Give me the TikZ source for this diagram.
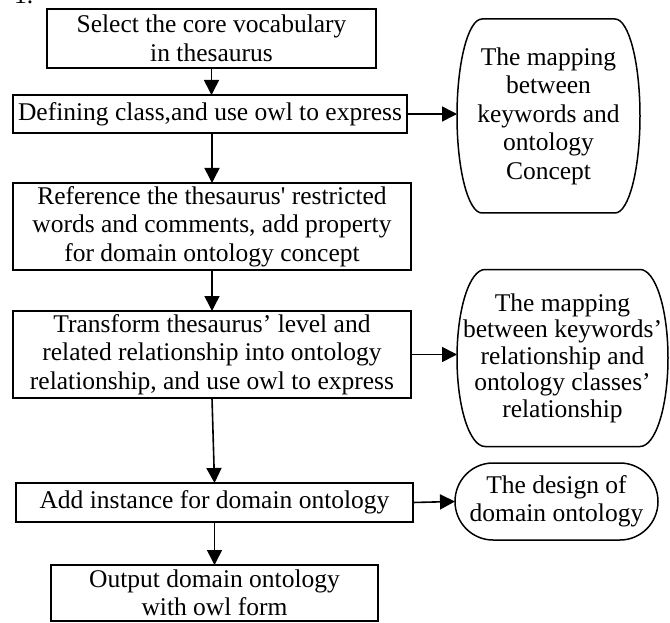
\documentclass[tikz,border=0pt]{standalone}
\usepackage{fontspec}
\setmainfont{Liberation Serif}
\usetikzlibrary{arrows.meta,calc}
\newcommand\barrelshape[2]{%
  \draw[outline] let \p1=(#1.north west), \p2=(#1.south east), \n1={(\y1-\y2)/2} in
    (\x1+#2,\y1) -- (\x2-#2,\y1)
    arc[start angle=90,end angle=-90,x radius=#2,y radius=\n1]
    -- (\x1+#2,\y2)
    arc[start angle=270,end angle=90,x radius=#2,y radius=\n1] -- cycle;}
\begin{document}
\begin{tikzpicture}[x=1pt,y=1pt,
  every node/.style={font=\fontsize{25.5}{28.5}\selectfont},
  stepbox/.style={draw, line width=1.5pt, align=center, inner sep=0pt, outer sep=0pt},
  barrel/.style={align=center, inner sep=0pt, outer sep=0pt},
  conn/.style={line width=1.6pt, -{Triangle[length=15pt,width=15pt]}},
  outline/.style={line width=1.5pt}
]
\useasboundingbox (0,0) rectangle (670,-623);
\node[anchor=base west, inner sep=0pt] (num) at (14,-4) {1.};
\node[stepbox, minimum width=329, minimum height=59] (b1) at (211.5,-38.5) {Select the core vocabulary\\in thesaurus};
\node[stepbox, minimum width=394, minimum height=38] (b2) at (210,-114) {Defining class,and use owl to express};
\node[stepbox, minimum width=398, minimum height=87] (b3) at (212,-226.5) {Reference the thesaurus\textquotesingle{} restricted\\words and comments, add property\\for domain ontology concept};
\node[stepbox, minimum width=398, minimum height=87] (b4) at (212,-354.5) {Transform thesaurus’ level and\\related relationship into ontology\\relationship, and use owl to express};
\node[stepbox, minimum width=397, minimum height=39] (b5) at (214.5,-502.5) {Add instance for domain ontology};
\node[stepbox, minimum width=327, minimum height=56] (b6) at (214.5,-593) {Output domain ontology\\with owl form};
\node[barrel, minimum width=183, minimum height=194] (e1) at (548.5,-116) {The mapping\\between\\keywords and\\ontology\\Concept};
\node[barrel, minimum width=211, minimum height=177, font=\fontsize{25.5}{26.5}\selectfont] (e2) at (562.5,-358) {The mapping\\between keywords’\\relationship and\\ontology classes’\\relationship};
\node[barrel, minimum width=203, minimum height=77] (e3) at (556.5,-501.5) {The design of\\domain ontology};
\barrelshape{e1}{25pt}
\barrelshape{e2}{28pt}
\barrelshape{e3}{38pt}
\draw[conn] (b1.south) -- (b1.south |- b2.north);
\draw[conn] (b2.east) -- (b2.east -| e1.west);
\draw[conn] (b3.north |- b2.south) -- (b3.north);
\draw[conn] (b3.south) -- (b4.north);
\draw[conn] (b4.east) -- (b4.east -| e2.west);
\draw[conn] (b4.south) -- (b5.north);
\draw[conn] (b5.east) -- (e3.west);
\draw[conn] (b5.south) -- (b6.north);
\end{tikzpicture}
\end{document}
